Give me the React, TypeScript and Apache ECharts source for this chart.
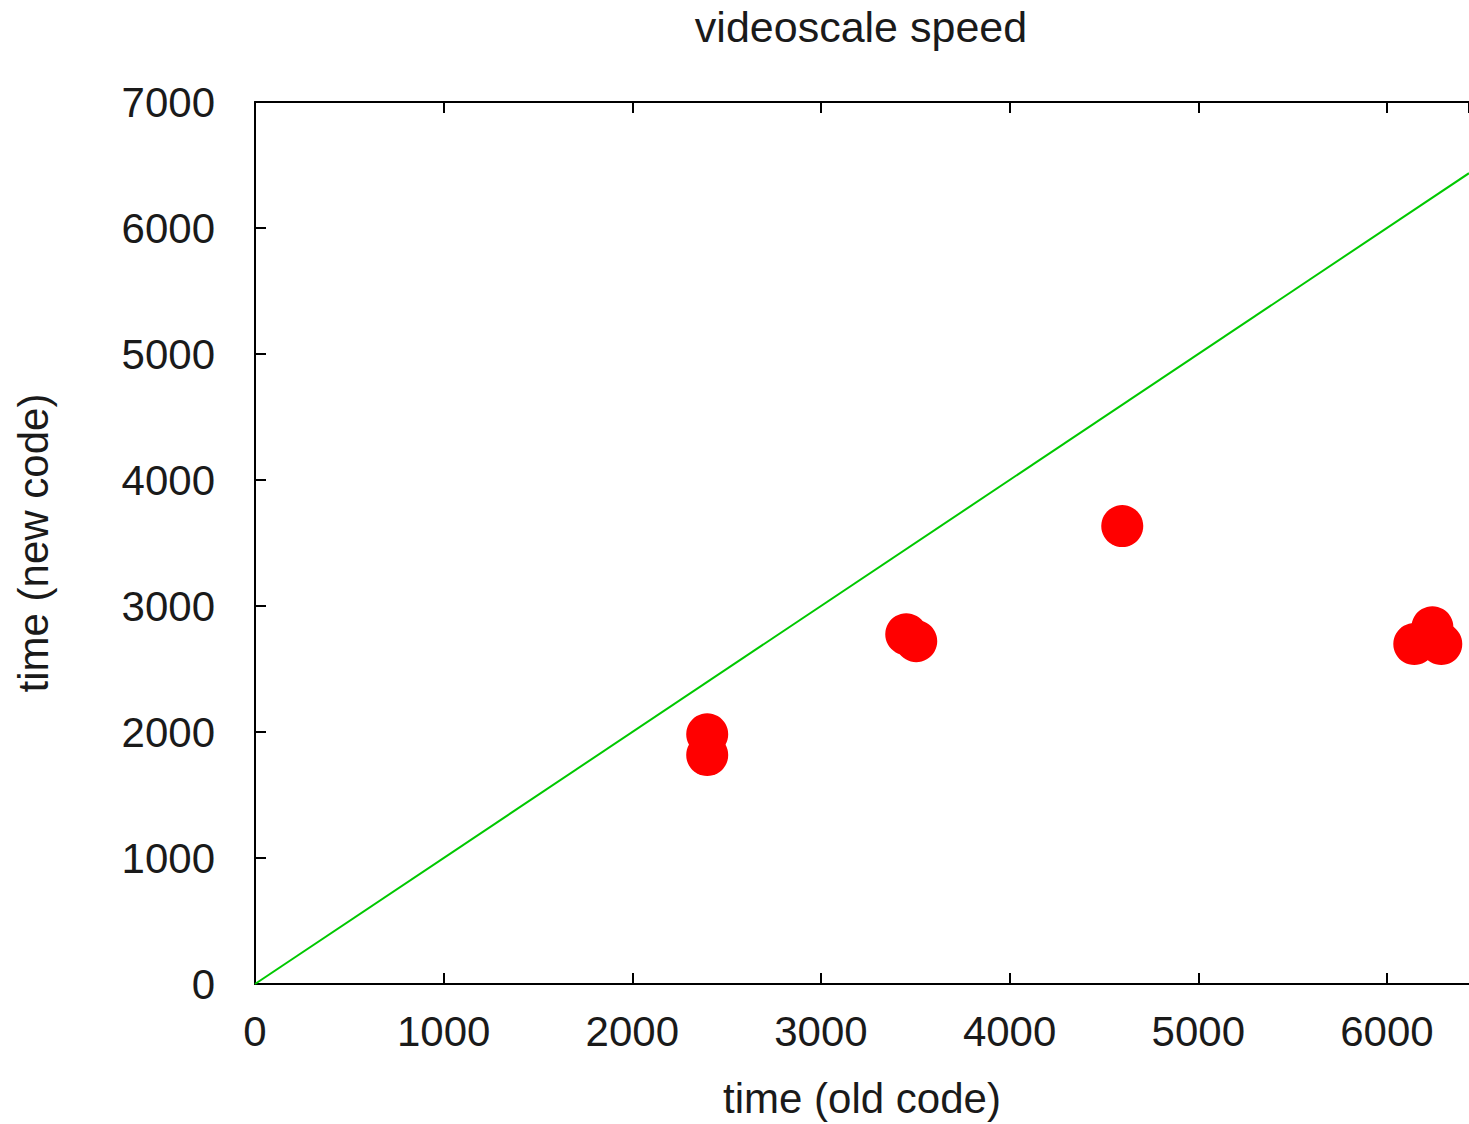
import React, { useEffect, useRef } from "react";
import * as echarts from "echarts";

const chartTitle = "videoscale speed";
const xAxisName = "time (old code)";
const yAxisName = "time (new code)";

// measured runs: time with old code vs. time with new code
const oldCodeTimes = [2397, 2397, 3452, 3505, 4597, 6145, 6241, 6288];
const newCodeTimes = [1982, 1817, 2776, 2721, 3634, 2698, 2832, 2698];

// reference line y = x
const referenceX = [0, 6435];
const referenceY = [0, 6435];

const xMin = 0;
const xMax = 6435;
const yMin = 0;
const yMax = 7000;
const tickInterval = 1000;

const FONT = "Liberation Sans";
const TEXT_COLOR = "#1a1a1a";

export default function App() {
  const ref = useRef<HTMLDivElement>(null);

  useEffect(() => {
    document.body.style.margin = "0";
    if (!ref.current) return;
    const chart = echarts.init(ref.current, null, { renderer: "svg", width: 1469, height: 1124 });

    const scatterData = oldCodeTimes.map((x, i) => [x, newCodeTimes[i]]);
    const lineData = referenceX.map((x, i) => [x, referenceY[i]]);

    const axisLine = { show: true, lineStyle: { color: "#000", width: 2 } };
    const axisTick = { show: true, inside: true, length: 11, lineStyle: { color: "#000", width: 2 } };
    const plain = (v: number) => String(v);

    chart.setOption({
      animation: false,
      backgroundColor: "#ffffff",
      textStyle: { fontFamily: FONT },
      graphic: [
        {
          type: "text",
          x: 861,
          y: 5,
          style: {
            text: chartTitle,
            textAlign: "center",
            textVerticalAlign: "top",
            fontFamily: FONT,
            fontSize: 43,
            fill: TEXT_COLOR,
          },
        },
      ],
      grid: { left: 255, right: 0, top: 102, bottom: 132, containLabel: false },
      xAxis: [
        {
          type: "value",
          position: "bottom",
          min: xMin,
          max: xMax,
          interval: tickInterval,
          name: xAxisName,
          nameLocation: "middle",
          nameGap: 114,
          nameTextStyle: { fontFamily: FONT, fontSize: 42, color: TEXT_COLOR, verticalAlign: "middle" },
          axisLine,
          axisTick,
          splitLine: { show: false },
          axisLabel: {
            show: true,
            showMaxLabel: false,
            formatter: plain,
            margin: 26,
            fontFamily: FONT,
            fontSize: 42,
            color: TEXT_COLOR,
          },
        },
        {
          type: "value",
          position: "top",
          min: xMin,
          max: xMax,
          interval: tickInterval,
          axisLine,
          axisTick,
          splitLine: { show: false },
          axisLabel: { show: false },
        },
      ],
      yAxis: [
        {
          type: "value",
          min: yMin,
          max: yMax,
          interval: tickInterval,
          name: yAxisName,
          nameLocation: "middle",
          nameGap: 222,
          nameRotate: 90,
          nameTextStyle: { fontFamily: FONT, fontSize: 42, color: TEXT_COLOR, verticalAlign: "middle" },
          axisLine,
          axisTick,
          splitLine: { show: false },
          axisLabel: {
            show: true,
            formatter: plain,
            margin: 40,
            fontFamily: FONT,
            fontSize: 42,
            color: TEXT_COLOR,
          },
        },
      ],
      series: [
        {
          name: "y = x",
          type: "line",
          data: lineData,
          showSymbol: false,
          symbol: "none",
          lineStyle: { color: "#00c800", width: 2 },
          z: 2,
        },
        {
          name: "timings",
          type: "scatter",
          data: scatterData,
          symbol: "circle",
          symbolSize: 42,
          itemStyle: { color: "#ff0000", opacity: 1 },
          emphasis: { disabled: true },
          z: 3,
        },
      ],
    });

    return () => chart.dispose();
  }, []);

  return <div ref={ref} style={{ width: 1469, height: 1124 }} />;
}
